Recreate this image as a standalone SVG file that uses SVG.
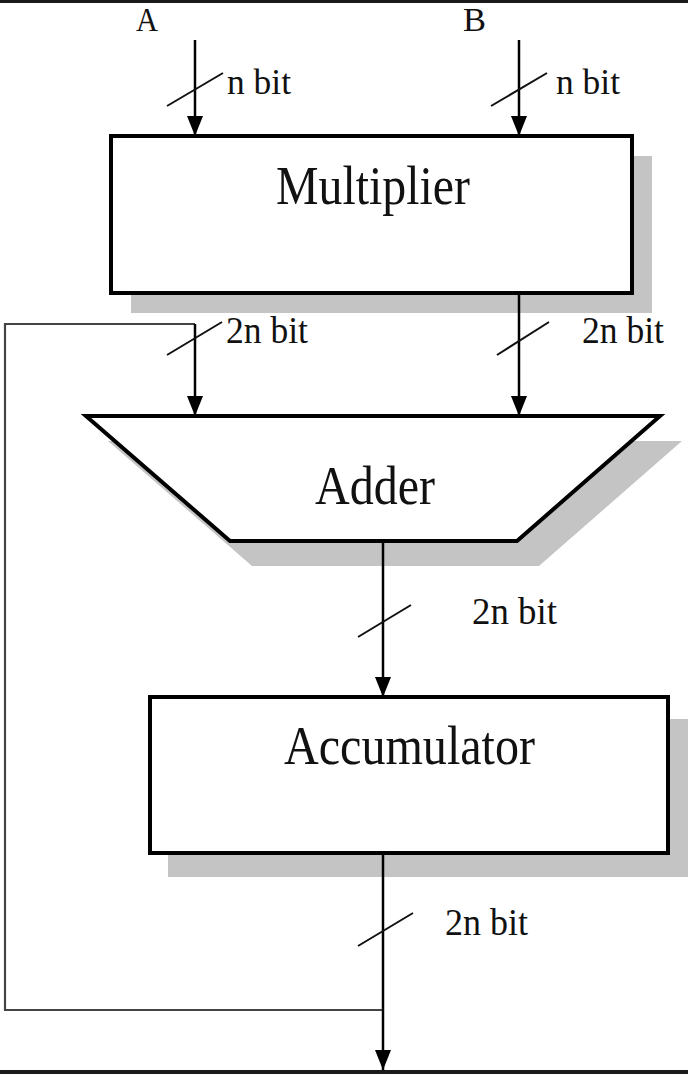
<svg xmlns="http://www.w3.org/2000/svg" width="688" height="1074" viewBox="0 0 688 1074">
<style>
.t{font-family:"Liberation Serif","Times New Roman",serif;fill:#111}
.lbl{font-size:38px}
.nb{font-size:36px}
.io{font-size:34px}
.big{font-size:54px}
.box{fill:#fff;stroke:#000;stroke-width:4}
.sh{fill:#c4c4c4}
.ar{stroke:#000;stroke-width:2.5;fill:none}
.sl{stroke:#111;stroke-width:2;fill:none}
.fb{stroke:#444;stroke-width:2.2;fill:none}
</style>
<defs>
<marker id="ah" markerUnits="userSpaceOnUse" markerWidth="20" markerHeight="16" refX="20" refY="8" orient="auto">
<path d="M0,0 L20,8 L0,16 z" fill="#000"/>
</marker>
</defs>
<rect x="0" y="0" width="688" height="1074" fill="#fff"/>
<rect x="0" y="0" width="688" height="3" fill="#1a1a1a"/>
<rect x="0" y="1070" width="688" height="4" fill="#1a1a1a"/>

<g id="inputs">
<text class="t io" x="136" y="31" textLength="22" lengthAdjust="spacingAndGlyphs">A</text>
<text class="t io" x="463" y="31" textLength="23" lengthAdjust="spacingAndGlyphs">B</text>
</g>

<g id="multiplier">
<rect class="sh" x="131" y="156" width="521" height="157"/>
<rect class="box" x="111" y="136" width="521" height="157"/>
<text class="t big" x="276" y="204" textLength="194" lengthAdjust="spacingAndGlyphs">Multiplier</text>
</g>

<g id="adder">
<polygon class="sh" points="108,441 682,441 539,566 252,566"/>
<polygon class="box" points="86,416 660,416 517,541 230,541"/>
<text class="t big" x="315" y="504" textLength="120" lengthAdjust="spacingAndGlyphs">Adder</text>
</g>

<g id="accumulator">
<rect class="sh" x="168" y="719" width="520" height="158"/>
<rect class="box" x="150" y="697" width="518" height="156"/>
<text class="t big" x="284" y="764" textLength="251" lengthAdjust="spacingAndGlyphs">Accumulator</text>
</g>

<g id="connectors">
<line class="ar" x1="195" y1="40" x2="195" y2="136" marker-end="url(#ah)"/>
<line class="ar" x1="519" y1="40" x2="519" y2="136" marker-end="url(#ah)"/>
<line class="ar" x1="519" y1="293" x2="519" y2="416" marker-end="url(#ah)"/>
<polyline class="fb" points="383,1010 5,1010 5,324 195,324"/>
<line class="ar" x1="195" y1="324" x2="195" y2="416" marker-end="url(#ah)"/>
<line class="ar" x1="383" y1="541" x2="383" y2="697" marker-end="url(#ah)"/>
<line class="ar" x1="383" y1="853" x2="383" y2="1070" marker-end="url(#ah)"/>
<line class="sl" x1="167" y1="106" x2="223" y2="73"/>
<line class="sl" x1="491" y1="106" x2="547" y2="73"/>
<line class="sl" x1="167" y1="355" x2="222" y2="322"/>
<line class="sl" x1="497" y1="355" x2="549" y2="322"/>
<line class="sl" x1="358" y1="637" x2="411" y2="605"/>
<line class="sl" x1="358" y1="946" x2="413" y2="913"/>
</g>

<g id="labels">
<text class="t nb" x="227" y="94" textLength="64" lengthAdjust="spacingAndGlyphs">n bit</text>
<text class="t nb" x="556" y="94" textLength="64" lengthAdjust="spacingAndGlyphs">n bit</text>
<text class="t lbl" x="226" y="343" textLength="82" lengthAdjust="spacingAndGlyphs">2n bit</text>
<text class="t lbl" x="582" y="343" textLength="82" lengthAdjust="spacingAndGlyphs">2n bit</text>
<text class="t lbl" x="472" y="624" textLength="85" lengthAdjust="spacingAndGlyphs">2n bit</text>
<text class="t lbl" x="445" y="935" textLength="83" lengthAdjust="spacingAndGlyphs">2n bit</text>
</g>
</svg>
